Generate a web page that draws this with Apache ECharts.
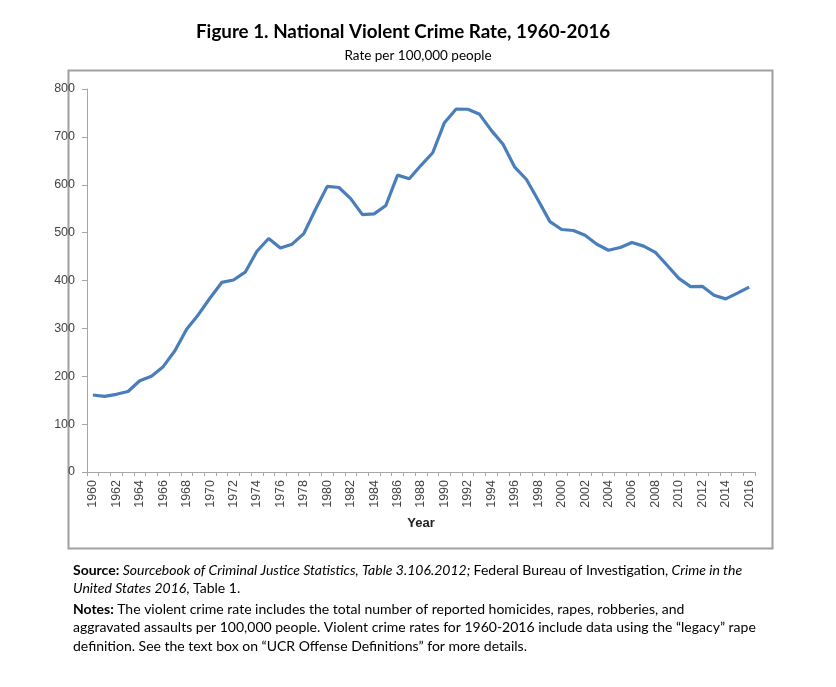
<!DOCTYPE html>
<html><head><meta charset="utf-8">
<script src="https://cdn.jsdelivr.net/npm/echarts@6/dist/echarts.min.js"></script>
<style>html,body{margin:0;padding:0;background:#fff}#c{width:836px;height:687px}</style>
</head><body><div id="c"></div>
<script>
const years = [];
for (let y = 1960; y <= 2016; y++) years.push(String(y));
const rates = [160.9,158.1,162.3,168.2,190.6,200.2,220.0,253.2,298.4,328.7,
  363.5,396.0,401.0,417.4,461.1,487.8,467.8,475.9,497.8,548.9,
  596.6,594.3,571.1,537.7,539.2,556.6,620.1,612.5,640.6,666.9,
  729.6,758.2,757.7,747.1,713.6,684.5,636.6,611.0,567.6,523.0,
  506.5,504.5,494.4,475.8,463.2,469.0,479.3,471.8,458.6,431.9,
  404.5,387.1,387.8,369.1,361.6,373.7,386.3];
const titleText = 'Figure 1. National Violent Crime Rate, 1960-2016';
const subtitleText = 'Rate per 100,000 people';
const xName = 'Year';

const FONT = 'Lato, "Open Sans", sans-serif';
const chart = echarts.init(document.getElementById('c'));
chart.setOption({
  animation: false,
  backgroundColor: '#fff',
  title: [{
    text: titleText, left: 191, top: 17,
    textStyle: {fontFamily: FONT, fontWeight: 'bold', fontSize: 18.8, color: '#000'}
  }, {
    text: subtitleText, left: 'center', top: 44,
    textStyle: {fontFamily: FONT, fontWeight: 'normal', fontSize: 13.5, color: '#000'}
  }],
  grid: {left: 87, right: 81, top: 89, bottom: 215, containLabel: false},
  xAxis: {
    type: 'category', data: years, boundaryGap: true,
    name: xName, nameLocation: 'middle', nameGap: 45,
    nameTextStyle: {fontFamily: 'Liberation Sans Narrow, Arial', fontWeight: 'bold', fontSize: 13, color: '#222'},
    axisLine: {lineStyle: {color: '#a6a6a6', width: 1}},
    axisTick: {show: true, interval: 0, length: 4, lineStyle: {color: '#a6a6a6'}},
    axisLabel: {interval: 1, rotate: 90, fontFamily: 'Liberation Sans, Arial', fontSize: 12.5, color: '#444', margin: 8}
  },
  yAxis: {
    type: 'value', min: 0, max: 800, interval: 100,
    axisLine: {show: true, lineStyle: {color: '#a6a6a6', width: 1}},
    axisTick: {show: true, length: 5, lineStyle: {color: '#a6a6a6'}},
    splitLine: {show: false},
    axisLabel: {fontFamily: 'Liberation Sans, Arial', fontSize: 12.5, color: '#444', margin: 12}
  },
  series: [{
    type: 'line', data: rates, showSymbol: false, symbol: 'none',
    lineStyle: {color: '#4a7ebb', width: 3.2}, itemStyle: {color: '#4a7ebb'}
  }],
  graphic: [
    {type: 'rect', shape: {x: 68.5, y: 70.5, width: 704, height: 478}, z: -1,
     style: {fill: 'none', stroke: '#a0a0a0', lineWidth: 2}},
    {type: 'text', left: 73, top: 563, style: {
      text: '{b|Source:} {i|Sourcebook of Criminal Justice Statistics, Table 3.106.2012;} {n|Federal Bureau of Investigation,} {i|Crime in the}\n{i|United States 2016}{n|, Table 1.}',
      rich: {
        b: {fontFamily: FONT, fontWeight: 'bold', fontSize: 14, lineHeight: 18, fill: '#000'},
        i: {fontFamily: FONT, fontStyle: 'italic', fontSize: 14, lineHeight: 18, fill: '#000'},
        n: {fontFamily: FONT, fontSize: 14, lineHeight: 18, fill: '#000'}
      }}},
    {type: 'text', left: 73, top: 602, style: {
      text: '{b|Notes:} {n|The violent crime rate includes the total number of reported homicides, rapes, robberies, and}\n{n|aggravated assaults per 100,000 people. Violent crime rates for 1960-2016 include data using the \u201clegacy\u201d rape}\n{n|definition. See the text box on \u201cUCR Offense Definitions\u201d for more details.}',
      rich: {
        b: {fontFamily: FONT, fontWeight: 'bold', fontSize: 14, lineHeight: 18.5, fill: '#000'},
        n: {fontFamily: FONT, fontSize: 14, lineHeight: 18.5, fill: '#000'}
      }}}
  ]
});
</script></body></html>
